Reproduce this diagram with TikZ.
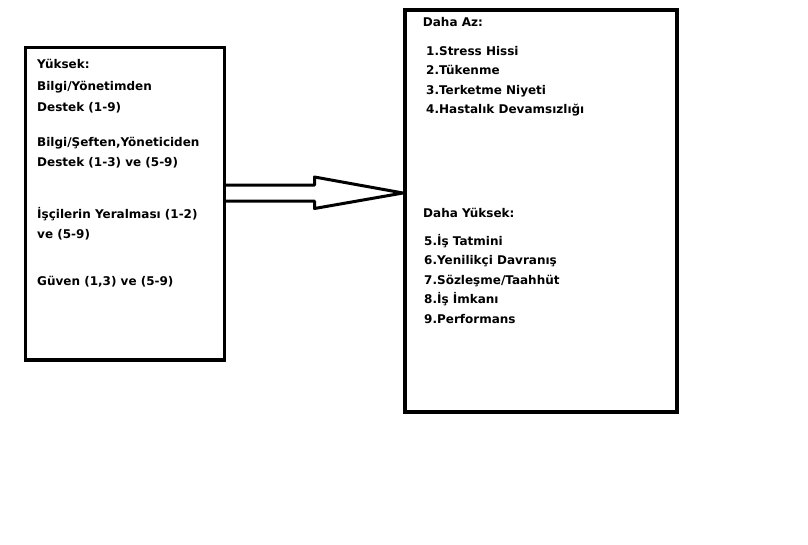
\documentclass[tikz,border=0pt]{standalone}
\usepackage{fontspec}
\setmainfont{DejaVu Sans}
\usetikzlibrary{calc}

\begin{document}
\begin{tikzpicture}[x=1pt,y=-1pt,
	kutu/.style={draw,line width=3.5pt,inner sep=0pt,outer sep=0pt},
	yazi/.style={anchor=base west,inner sep=0pt,font=\fontsize{12}{14}\selectfont\bfseries},
	okcizgi/.style={line width=3pt,line join=round}]
	
	\useasboundingbox (0,0) rectangle (808,544);
	
	\node[kutu,minimum width=199pt,minimum height=312.5pt] (sol) at (125,203.75) {};
	\node[kutu,minimum width=272pt,minimum height=402pt] (sag) at (541,211) {};
	
	\draw[okcizgi] ($(sol.east)+(0,-18.75)$) -- ++(90,0) -- ++(0,-8)
	-- ($(sag.west)+(-2,-18)$) -- ($(sol.east)+(90,4.75)$) -- ++(0,-7.5)
	-- ($(sol.east)+(0,-2.75)$);
	
	\node[yazi] (y1) at (37,68) {Yüksek:};
	\node[yazi] (y2) at (37,90.7) {Bilgi/Yönetimden};
	\node[yazi] (y3) at (37,111) {Destek (1-9)};
	\node[yazi] (y4) at (37,146) {Bilgi/Şeften,Yöneticiden};
	\node[yazi] (y5) at (37,166) {Destek (1-3) ve (5-9)};
	\node[yazi] (y6) at (37,218) {İşçilerin Yeralması (1-2)};
	\node[yazi] (y7) at (37,238.7) {ve (5-9)};
	\node[yazi] (y8) at (37,285) {Güven (1,3) ve (5-9)};
	
	\node[yazi] (az) at (422.7,26.7) {Daha Az:};
	\node[yazi] (a1) at (426,55) {1.Stress Hissi};
	\node[yazi] (a2) at (426,74.5) {2.Tükenme};
	\node[yazi] (a3) at (426,94) {3.Terketme Niyeti};
	\node[yazi] (a4) at (426,113.3) {4.Hastalık Devamsızlığı};
	
	\node[yazi] (yuk) at (423,217.3) {Daha Yüksek:};
	\node[yazi] (b5) at (424,245) {5.İş Tatmini};
	\node[yazi] (b6) at (424,264.5) {6.Yenilikçi Davranış};
	\node[yazi] (b7) at (424,284) {7.Sözleşme/Taahhüt};
	\node[yazi] (b8) at (424,303.5) {8.İş İmkanı};
	\node[yazi] (b9) at (424,323.3) {9.Performans};
\end{tikzpicture}
\end{document}
